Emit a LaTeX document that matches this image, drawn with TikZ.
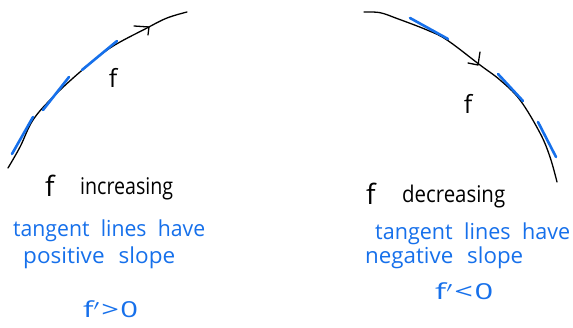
\documentclass[tikz,border=0pt]{standalone}
\usepackage{fontspec}
\usepackage{graphicx}
\setmainfont{Open Sans}
\definecolor{penblue}{RGB}{22,112,235}
\newcommand{\fitw}[2]{\resizebox{#1}{\height}{#2}}
\begin{document}
\begin{tikzpicture}[x=1pt,y=-1pt,
  curve/.style={line width=1.3pt,line cap=round,line join=round},
  tang/.style={penblue,line width=2.6pt,line cap=round},
  blk/.style={font=\fontsize{23}{24}\selectfont,inner sep=0pt,anchor=base west},
  bigf/.style={font=\fontsize{28}{28}\selectfont,inner sep=0pt,anchor=base west},
  blu/.style={font=\fontsize{22}{24}\selectfont,text=penblue,inner sep=0pt,anchor=base west}]
\useasboundingbox[fill=white] (0,0) rectangle (573,328);
% left curve
\draw[curve] plot[smooth,tension=0.6] coordinates {(8,168) (20,147) (33,120) (53,97) (80,72) (110,48) (147,28) (167,18) (187,12)};
\coordinate (la) at (149,27);
\draw[curve] (134,26) -- (la) -- (148,35);
\draw[tang] (12,154) -- (33,117);
\draw[tang] (43,110) -- (69,77);
\draw[tang] (82,70) -- (117,41);
\node[bigf,anchor=center,font=\fontsize{25}{25}\selectfont] (lf) at (113,78) {f};
% right curve
\draw[curve] plot[smooth,tension=0.6] coordinates {(364,12) (380,12.7) (397,18.5) (427,30) (447,40) (480,65) (500,80) (520,100) (540,133) (550,157) (557,182)};
\coordinate (ra) at (478,65);
\draw[curve] (480,52) -- (ra) -- (468,63);
\draw[tang] (410,18) -- (448,39);
\draw[tang] (498,74) -- (523,101);
\draw[tang] (538,122) -- (556,157);
\node[bigf,anchor=center,font=\fontsize{25}{25}\selectfont] (rf) at (468,104) {f};
% texts
\node[bigf] (t1f) at (45,197) {f};
\node[blk] (t1) at (80,195) {\fitw{93pt}{increasing}};
\node[blu] (t2) at (13,237) {\fitw{192pt}{tangent\hspace{6pt} lines\hspace{6pt} have}};
\node[blu] (t3) at (23,264) {\fitw{152pt}{positive\hspace{8pt} slope}};
\node[blu] (t4) at (83,318) {\fitw{55pt}{f$'$\hspace{1pt}>\hspace{1pt}0}};
\node[bigf] (t5f) at (366,205) {f};
\node[blk] (t5) at (402,203) {\fitw{103pt}{decreasing}};
\node[blu] (t6) at (375,240) {\fitw{195pt}{tangent\hspace{6pt} lines\hspace{6pt} have}};
\node[blu] (t7) at (365,264) {\fitw{158pt}{negative\hspace{8pt} slope}};
\node[blu] (t8) at (435,300) {\fitw{58pt}{f$'$\hspace{1pt}<\hspace{1pt}0}};
\end{tikzpicture}
\end{document}
